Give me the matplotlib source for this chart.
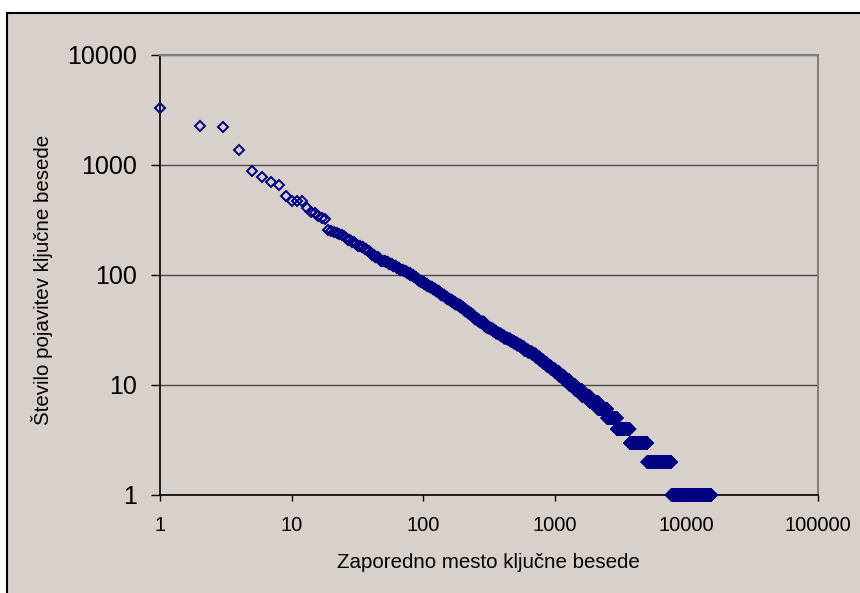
import numpy as np
import matplotlib
matplotlib.use("Agg")
import matplotlib.pyplot as plt
from matplotlib import ticker
from matplotlib.patches import Rectangle

plt.rcParams['font.family'] = ['Liberation Sans', 'DejaVu Sans']

# Counts for the first 25 ranks (read one by one)
top_counts = [3300, 2260, 2200, 1370, 890, 780, 705, 655, 520, 475, 475, 470,
              404, 376, 364, 344, 330, 320, 255, 252, 248, 240, 236, 233, 228]

# From rank 26 on: first rank of each run and the count shared by that run
run_start = [26, 27, 29, 31, 32, 34, 36, 38, 40, 41, 43, 46, 48, 52, 55, 59,
             63, 67, 71, 75, 80, 85, 89, 93, 97, 102, 107, 112, 118, 125, 132,
             137, 146, 152, 159, 166, 174, 183, 192, 200, 209, 219, 230, 242,
             248, 262, 268, 289, 301, 313, 326, 341, 356, 373, 392, 412, 435,
             460, 487, 518, 550, 584,
             625, 670, 715, 765, 815, 870, 930, 1000, 1080, 1175, 1290, 1430,
             1610, 1840, 2131, 2501, 2961, 3701, 5051, 7701]
run_count = [216, 208, 200, 192, 185, 178, 171, 164, 158, 152, 146, 140, 135,
             130, 125, 120, 116, 112, 108, 104, 100, 96, 92, 89, 86, 83, 80,
             77, 74, 71, 68, 66, 63, 61, 59, 57, 55, 53, 51, 49, 47, 45, 43,
             41, 40, 38, 37, 35, 34, 33, 32, 31, 30, 29, 28, 27, 26, 25, 24,
             23, 22, 21,
             20, 19, 18, 17, 16, 15, 14, 13, 12, 11, 10, 9, 8, 7, 6, 5, 4, 3,
             2, 1]
last_rank = 15400

bg = '#d8d0ca'
navy = '#000080'

# expand runs to one point per rank
starts = np.array(run_start)
lengths = np.diff(np.append(starts, last_rank + 1))
counts = np.concatenate([top_counts, np.repeat(run_count, lengths)])
ranks = np.arange(1, len(counts) + 1)

fig = plt.figure(figsize=(8.6, 5.93), dpi=100, facecolor='white')
fig.patches.append(Rectangle((7 / 860, -0.05), 1.0, (593 - 13) / 593 + 0.05,
                             transform=fig.transFigure, facecolor=bg,
                             edgecolor='black', linewidth=1.5, zorder=-5))

ax = fig.add_axes([160 / 860, 98 / 593, 658 / 860, 440 / 593], zorder=2)
ax.set_facecolor(bg)
ax.set_xscale('log')
ax.set_yscale('log')
ax.set_xlim(1, 1e5)
ax.set_ylim(1, 1e4)

ax.plot(ranks, counts, 'D', mfc='none', mec=navy, ms=4.6, mew=1.4,
        clip_on=False, zorder=3)

fmt = ticker.FuncFormatter(lambda v, _: f'{v:g}')
ax.xaxis.set_major_locator(ticker.LogLocator(base=10, numticks=10))
ax.yaxis.set_major_locator(ticker.LogLocator(base=10, numticks=10))
ax.xaxis.set_major_formatter(fmt)
ax.yaxis.set_major_formatter(fmt)
ax.xaxis.set_minor_locator(ticker.NullLocator())
ax.yaxis.set_minor_locator(ticker.NullLocator())

ax.yaxis.grid(True, color='#4a4a4a', linewidth=1)
ax.set_axisbelow(True)

ax.tick_params(axis='y', direction='out', length=6.5, width=1, pad=10,
               labelsize=18, colors='black')
ax.tick_params(axis='x', direction='out', length=4, width=1, pad=11,
               labelsize=14.5, colors='black')

for side in ('left', 'bottom'):
    ax.spines[side].set_color('black')
    ax.spines[side].set_linewidth(1.2)
for side in ('top', 'right'):
    ax.spines[side].set_color('#808080')
    ax.spines[side].set_linewidth(1.5)

fig.text(488 / 860, 1 - 562 / 593, 'Zaporedno mesto ključne besede',
         ha='center', va='center', fontsize=14.8)
fig.text(42 / 860, 1 - 280 / 593, 'Število pojavitev ključne besede',
         ha='center', va='center', rotation=90, fontsize=14.8)

fig.savefig('out.png', dpi=100, facecolor='white')
